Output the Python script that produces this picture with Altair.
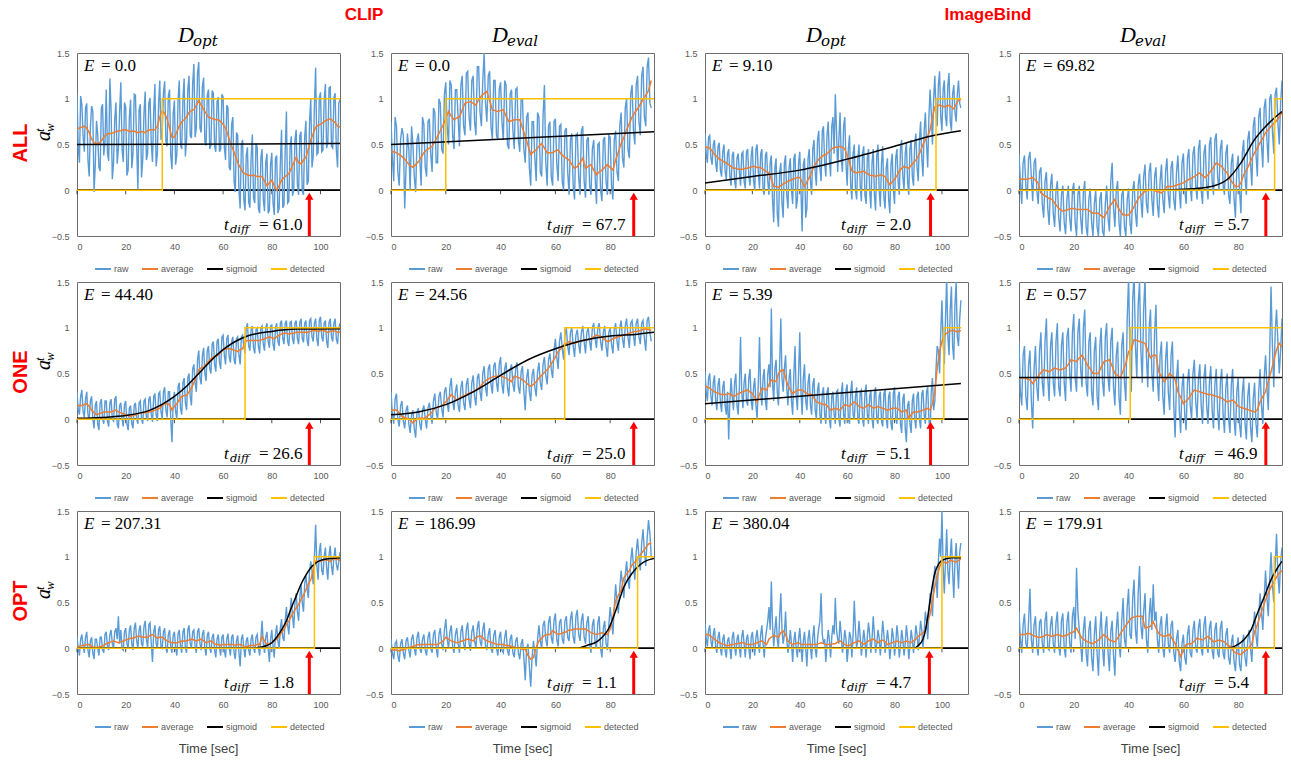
import altair as alt
import pandas as pd

# ---------------- data ----------------
SERIES = ["raw", "average", "sigmoid", "detected"]
COLORS = ["#5B9BD5", "#ED7D31", "#000000", "#FFC000"]
X_MAX = [108, 96, 111, 96]
X_TICKS = [[0, 20, 40, 60, 80, 100], [0, 20, 40, 60, 80], [0, 20, 40, 60, 80, 100], [0, 20, 40, 60, 80]]
Y_TICKS = [-0.5, 0, 0.5, 1, 1.5]
ROW_NAMES = ["ALL", "ONE", "OPT"]
GROUP_NAMES = ["CLIP", "ImageBind"]
COL_SUBS = ["opt", "eval", "opt", "eval"]
E_VALUES = ["0.0", "0.0", "9.10", "69.82", "44.40", "24.56", "5.39", "0.57", "207.31", "186.99", "380.04", "179.91"]
TDIFF = ["61.0", "67.7", "2.0", "5.7", "26.6", "25.0", "5.1", "46.9", "1.8", "1.1", "4.7", "5.4"]
ARROW_T = [95.4, 88.6, 95.2, 90.1, 95.4, 88.6, 95.2, 90.1, 95.4, 88.6, 94.7, 90.1]
DET_SWITCH = [35.0, 20.0, 97.5, 93.3, 69.0, 63.4, 100.8, 40.6, 97.5, 90.0, 100.0, 93.2]
DET_END = [108, 96, 108.2, 96, 108, 96, 108.2, 96, 108, 96, 108.2, 96]
DET_LEVELS = [0, 0, 1, 1]

# raw series at whole seconds
A_RAW = [1.05,0.30,0.94,0.42,0.95,0.15,0.92,-0.02,0.76,0.25,0.90,0.38,1.10,0.32,0.88,0.30,0.96,0.45,1.18,0.31,0.91,0.22,0.99,0.40,1.04,0.01,0.94,0.34,1.08,0.40,1.01,0.31,1.16,0.40,1.20,0.62,1.19,0.48,1.10,0.23,0.98,0.39,1.20,0.45,1.22,0.55,1.25,0.57,1.38,0.68,1.40,0.63,1.23,0.49,1.10,0.49,1.06,0.42,1.02,0.45,1.02,0.33,0.90,0.22,0.80,-0.02,0.60,-0.20,0.55,-0.22,0.47,-0.19,0.61,-0.14,0.47,-0.25,0.45,-0.23,0.40,-0.22,0.41,-0.27,0.38,-0.20,0.66,-0.16,0.86,-0.12,0.59,0.00,0.66,-0.05,0.64,-0.05,0.76,0.10,1.00,0.37,1.34,0.41,1.07,0.44,1.16,0.52,1.13,0.46,1.06,0.25,0.99]
B_RAW = [0.75,0.10,0.70,0.05,0.68,-0.20,0.62,0.00,0.50,-0.02,0.62,0.05,0.72,0.15,0.78,0.20,0.85,0.30,0.95,0.40,1.18,0.50,1.15,0.45,1.10,0.48,1.25,0.60,1.30,0.65,1.25,0.60,1.35,0.70,1.50,0.75,1.30,0.55,1.20,0.55,1.18,0.55,1.15,0.45,1.10,0.45,1.12,0.42,1.00,0.30,0.85,0.05,0.75,0.10,0.80,0.15,1.15,0.05,0.75,0.05,0.78,0.10,0.72,0.00,0.68,-0.05,0.62,-0.10,0.62,-0.05,0.70,-0.08,0.58,-0.05,0.55,-0.15,0.52,-0.12,0.58,-0.05,0.58,-0.10,0.65,0.10,0.85,0.25,1.00,0.35,1.15,0.50,1.25,0.60,1.35,0.70,1.45,0.90]
C_RAW = [0.62,0.30,0.60,0.28,0.55,0.20,0.52,0.15,0.50,0.12,0.45,0.05,0.42,0.02,0.40,0.05,0.42,0.02,0.45,0.05,0.48,0.00,0.50,0.02,0.45,-0.05,0.42,-0.05,0.38,-0.35,0.35,-0.40,0.30,-0.30,0.38,-0.20,0.35,-0.15,0.40,-0.10,0.42,-0.45,0.35,-0.20,0.45,-0.05,0.55,0.05,0.65,0.10,0.70,0.15,0.75,0.15,0.80,1.05,0.20,0.85,0.20,0.80,0.05,0.60,-0.10,0.50,-0.10,0.50,-0.12,0.48,-0.15,0.45,-0.20,0.45,-0.22,0.50,-0.18,0.48,-0.20,0.35,-0.25,0.40,-0.15,0.45,-0.05,0.55,0.00,0.52,-0.05,0.55,0.05,0.62,0.10,0.75,0.15,0.85,0.25,1.10,0.50,1.25,0.70,1.30,0.65,1.20,0.70,1.28,0.65,1.15,0.75,1.20,0.90]
D_RAW = [0.40,-0.15,0.38,-0.10,0.42,-0.12,0.35,-0.15,0.25,-0.30,0.20,-0.38,0.18,-0.40,0.10,-0.45,0.05,-0.48,0.05,-0.45,0.08,-0.50,0.05,-0.48,0.10,-0.50,0.02,-0.50,0.00,-0.50,-0.02,-0.50,0.05,-0.45,0.30,-0.40,0.10,-0.50,0.00,-0.50,0.02,-0.48,0.10,-0.40,0.18,-0.30,0.28,-0.25,0.30,-0.28,0.25,-0.30,0.28,-0.25,0.35,-0.20,0.32,-0.22,0.38,-0.20,0.40,-0.15,0.45,-0.12,0.48,-0.10,0.55,-0.15,0.50,-0.10,0.58,-0.05,0.62,0.00,0.55,-0.05,0.50,-0.15,0.40,-0.30,0.38,-0.25,0.55,-0.05,0.65,0.05,0.80,0.15,0.90,0.25,1.00,0.30,1.05,0.40,1.12,0.50,1.20]
E_RAW = [0.30,0.05,0.32,0.02,0.30,0.00,0.25,-0.10,0.20,-0.12,0.22,-0.05,0.20,-0.08,0.22,-0.02,0.25,-0.10,0.18,-0.08,0.20,-0.12,0.15,-0.10,0.18,-0.05,0.20,-0.05,0.22,-0.02,0.25,-0.03,0.28,-0.02,0.30,0.00,0.35,0.02,0.30,-0.25,0.30,0.00,0.40,0.05,0.45,0.10,0.50,0.15,0.60,0.30,0.75,0.38,0.78,0.42,0.80,0.50,0.85,0.52,0.88,0.55,0.92,0.60,0.92,0.62,0.90,0.60,0.90,0.60,0.92,0.72,1.05,0.75,1.02,0.72,1.00,0.72,1.02,0.75,1.05,0.78,1.03,0.75,1.05,0.80,1.08,0.82,1.08,0.80,1.07,0.82,1.08,0.82,1.10,0.84,1.08,0.80,1.10,0.85,1.10,0.80,1.12,0.85,1.08,0.78,1.10,0.85,1.10,0.82,1.05]
F_RAW = [0.30,-0.05,0.28,-0.08,0.20,-0.10,0.15,-0.15,0.10,-0.20,0.12,-0.12,0.15,-0.10,0.18,-0.05,0.28,0.00,0.30,0.02,0.35,0.08,0.45,0.10,0.38,0.08,0.42,0.10,0.45,0.12,0.48,0.15,0.50,0.20,0.58,0.25,0.60,0.28,0.62,0.30,0.68,0.28,0.62,0.25,0.60,0.30,0.62,0.28,0.58,0.10,0.55,0.20,0.55,0.25,0.62,0.32,0.68,0.38,0.72,0.45,0.88,0.55,0.95,0.65,1.00,0.70,1.00,0.68,0.98,0.72,1.02,0.72,1.00,0.75,1.05,0.78,1.05,0.75,1.02,0.68,1.00,0.72,1.05,0.75,1.08,0.78,1.10,0.78,1.08,0.80,1.10,0.82,1.08,0.75,1.12,0.85]
G_RAW = [0.52,0.20,0.50,0.15,0.48,0.10,0.45,0.08,0.42,0.05,-0.22,0.45,0.10,0.50,0.05,0.90,0.12,0.50,0.15,0.55,0.10,0.45,0.00,0.90,0.15,0.55,0.10,0.60,1.21,0.20,0.65,0.15,1.10,0.30,0.70,0.15,0.55,0.05,0.80,0.10,0.95,0.05,0.60,0.10,0.50,0.05,0.45,0.00,0.40,-0.05,0.35,-0.05,0.35,-0.10,0.30,-0.05,0.32,-0.08,0.40,-0.05,0.38,-0.05,0.42,0.00,0.35,-0.05,0.32,-0.08,0.38,-0.05,0.32,-0.10,0.35,-0.05,0.30,-0.08,0.32,-0.10,0.30,-0.12,0.35,-0.05,0.30,-0.15,0.28,-0.25,0.20,-0.15,0.28,-0.10,0.30,-0.10,0.32,-0.05,0.35,-0.15,0.45,0.20,0.80,0.50,1.30,0.60,1.55,0.70,1.45,0.65,1.50,0.80,1.30]
H_RAW = [0.85,0.15,0.80,0.10,0.75,-0.10,0.80,0.20,0.95,0.25,1.10,0.20,0.95,0.25,1.05,0.25,0.95,0.20,1.00,0.30,1.15,0.30,1.10,0.35,1.20,0.25,0.95,0.15,0.90,0.10,1.00,0.25,1.05,0.30,1.00,0.15,0.85,0.05,0.95,0.20,1.55,0.30,1.60,0.45,1.50,0.40,1.55,0.35,1.20,0.30,1.25,0.20,0.85,0.05,0.85,0.10,0.85,-0.20,0.65,-0.15,0.50,-0.12,0.55,0.00,0.65,0.00,0.60,-0.05,0.60,-0.05,0.58,-0.10,0.55,-0.12,0.55,-0.15,0.50,-0.15,0.55,-0.18,0.45,-0.20,0.45,-0.22,0.40,-0.25,0.40,-0.20,0.55,-0.05,0.70,0.10,1.45,0.35,1.20,0.50,1.10]
I_RAW = [0.12,-0.08,0.15,-0.05,0.18,-0.10,0.12,-0.12,0.10,-0.08,0.12,-0.05,0.18,-0.02,0.20,0.00,0.22,0.35,0.20,-0.02,0.22,0.00,0.25,-0.02,0.28,0.00,0.25,0.02,0.30,0.00,0.28,-0.15,0.25,0.00,0.24,0.00,0.22,-0.05,0.20,-0.05,0.18,-0.08,0.20,-0.05,0.22,-0.05,0.25,0.00,0.20,-0.05,0.22,-0.02,0.20,-0.08,0.18,-0.05,0.16,-0.10,0.15,-0.08,0.15,-0.10,0.16,-0.08,0.15,-0.12,0.14,-0.20,0.15,-0.10,0.12,-0.08,0.15,-0.05,0.15,-0.08,0.30,-0.05,0.18,-0.15,0.20,-0.10,0.25,0.00,0.32,0.08,0.45,0.15,0.55,0.22,0.60,0.30,0.70,0.40,0.80,0.55,0.95,0.70,1.35,0.75,1.15,0.80,1.10,0.75,1.12,0.80,1.10,0.85,1.05]
J_RAW = [0.10,-0.12,0.08,-0.15,0.10,-0.12,0.12,-0.10,0.15,-0.08,0.18,-0.05,0.15,-0.08,0.18,-0.05,0.20,-0.10,0.22,-0.02,0.32,0.00,0.25,-0.05,0.22,-0.05,0.25,-0.02,0.28,-0.03,0.25,0.00,0.30,0.02,0.28,-0.02,0.22,-0.05,0.20,-0.08,0.18,-0.05,0.20,-0.08,0.15,-0.10,0.12,-0.12,0.10,-0.35,0.05,-0.42,0.08,-0.20,0.25,0.00,0.30,0.02,0.35,0.05,0.38,0.02,0.32,0.05,0.35,0.08,0.40,0.05,0.42,0.08,0.38,0.05,0.35,-0.05,0.32,0.00,0.35,-0.10,0.30,-0.02,0.45,0.15,0.70,0.38,0.85,0.55,0.95,0.65,1.10,0.75,1.20,0.85,1.30,0.90,1.40,1.00]
K_RAW = [0.28,0.02,0.25,0.00,0.22,-0.05,0.18,-0.08,0.15,-0.10,0.12,-0.12,0.18,-0.08,0.15,-0.10,0.20,-0.10,0.15,-0.12,0.18,-0.08,0.20,-0.05,0.25,-0.10,0.20,0.45,0.73,0.02,0.35,0.00,0.60,0.05,0.40,-0.05,0.20,-0.15,0.18,-0.10,0.22,-0.15,0.18,-0.20,0.20,-0.12,0.25,-0.10,0.22,0.60,0.05,-0.15,0.20,-0.10,0.25,0.55,0.10,0.30,-0.05,0.20,-0.15,0.18,-0.10,0.52,0.00,0.30,-0.08,0.20,-0.10,0.28,-0.05,0.35,-0.05,0.20,-0.08,0.30,-0.05,0.20,-0.12,0.22,-0.08,0.25,-0.10,0.20,-0.08,0.25,-0.12,0.20,-0.05,0.25,-0.02,0.30,0.00,0.40,0.10,0.60,0.35,0.90,0.55,1.20,1.50,0.60,1.30,0.70,1.20,0.55,1.15,0.65,1.15]
L_RAW = [0.40,-0.05,0.38,0.00,0.65,-0.05,0.35,-0.08,0.32,-0.05,0.40,-0.02,0.35,-0.05,0.40,-0.08,0.38,-0.10,0.40,-0.05,0.45,0.88,0.20,-0.15,0.35,-0.20,0.30,-0.25,0.35,-0.30,0.40,-0.20,0.35,-0.25,0.30,-0.30,0.40,-0.10,0.55,0.00,0.65,0.10,0.75,0.05,0.90,0.10,0.60,-0.05,0.55,0.70,0.40,-0.05,0.35,-0.10,0.38,-0.05,0.30,-0.15,0.20,-0.25,0.15,-0.18,0.25,-0.10,0.30,-0.05,0.32,-0.08,0.35,-0.05,0.30,-0.12,0.28,-0.10,0.30,-0.12,0.22,-0.18,0.15,-0.25,0.12,-0.25,0.15,-0.20,0.20,-0.15,0.40,0.00,0.60,0.20,0.85,0.35,1.05,0.50,1.25,0.60,1.10]

# raw series at the half seconds in between
A_HALF = [.47,1.03,.59,.90,.33,.68,.86,.27,.61,.21,.94,.53,.41,1.22,.12,.78,.29,.85,.45,.96,.16,.80,.24,1.05,.49,.88,.14,.84,.33,.95,.51,.86,.26,.95,.55,1.07,.54,1.03,.38,.83,.28,.99,.50,1.00,.37,1.10,.60,1.17,.58,1.28,.68,1.13,.53,1.04,.45,1.09,.48,.97,.42,1.05,.47,.93,.25,.72,.10,.63,.00,.50,-.10,.38,-.13,.36,-.09,.51,-.20,.35,-.10,.30,-.25,.28,-.14,.35,-.25,.30,-.19,.44,-.14,.48,-.06,.55,.06,.60,-.01,.58,.06,.75,.25,.92,.39,1.01,.42,.99,.46,1.12,.48,1.01,.44,.95]
B_HALF = [.35,.80,.20,.55,.60,.25,.45,.70,.15,.55,.35,.80,.25,.75,.40,.90,.30,1.00,.45,1.05,.70,1.20,.60,1.10,.80,1.15,.70,1.28,.80,1.20,.75,1.35,.85,1.20,.95,1.25,.70,1.20,.60,1.10,.75,1.20,.50,1.05,.65,1.10,.55,1.00,.45,.80,.25,.75,.35,.85,.20,.80,.30,.70,.15,.75,.30,.70,.10,.65,.20,.55,.05,.60,.15,.65,.10,.55,.05,.45,.15,.50,.00,.55,.10,.60,.05,.55,.20,.70,.35,.90,.45,1.05,.65,1.15,.75,1.25,.80,1.35,.95]
C_HALF = [.40,.58,.35,.50,.30,.48,.22,.42,.20,.40,.15,.38,.10,.35,.20,.40,.10,.42,.15,.38,.10,.45,.20,.40,.00,.38,.10,.30,-.10,.25,-.25,.20,-.15,.30,-.05,.25,.00,.35,-.20,.30,.00,.28,-.30,.35,.10,.45,.20,.55,.25,.65,.30,.60,.35,.70,.40,.65,.55,.35,.70,.30,.45,.05,.40,.00,.35,.05,.40,-.05,.35,.00,.30,-.05,.38,.00,.30,-.08,.25,-.10,.28,.00,.35,.10,.45,.15,.40,.10,.45,.15,.50,.25,.55,.35,.65,.50,.80,.85,1.00,.85,1.15,.80,1.10,.80,1.15,.75,1.05,.85,1.05,.95]
D_HALF = [.10,.30,.05,.35,.15,.30,.00,.20,-.15,.10,-.20,.05,-.25,.00,-.30,-.05,-.35,-.10,-.30,.00,-.35,-.05,-.30,-.02,-.40,-.10,-.35,-.15,-.40,-.10,-.45,-.15,-.30,.10,-.20,.00,-.35,-.05,-.40,-.10,-.35,.00,-.25,.05,-.10,.15,-.15,.20,-.10,.15,-.15,.10,-.10,.20,-.05,.25,-.10,.20,.00,.30,.00,.35,.05,.40,.05,.45,.00,.40,.05,.50,.10,.55,.15,.45,.05,.40,-.05,.30,-.10,.25,.00,.40,.15,.55,.30,.70,.40,.80,.50,.90,.55,1.00,.65,1.05,.75,.95]
E_HALF = [.10,.25,.08,.22,.05,.20,.00,.15,-.05,.18,.00,.20,-.02,.18,.00,.22,-.05,.15,.00,.16,-.05,.12,-.05,.15,.00,.18,.00,.20,.02,.22,.05,.25,.05,.28,.08,.30,.10,.30,.00,.20,.08,.35,.12,.40,.18,.45,.25,.55,.40,.65,.45,.70,.50,.75,.55,.82,.60,.85,.62,.90,.70,.88,.68,.85,.65,.88,.70,.90,.80,1.00,.80,.98,.78,.98,.80,1.00,.82,1.00,.85,1.02,.82,1.00,.85,1.05,.88,1.05,.85,1.06,.88,1.05,.88,1.06,.88,1.05,.86,1.08,.90,1.05,.88,1.08,.90,1.05,.85,1.06,.90,1.05,.88,1.00]
F_HALF = [.05,.22,.00,.15,-.02,.10,-.05,.05,-.10,.08,-.05,.10,.00,.12,.05,.20,.08,.25,.12,.30,.18,.35,.20,.30,.15,.35,.18,.38,.22,.40,.25,.45,.30,.50,.35,.55,.38,.58,.40,.60,.38,.55,.35,.55,.38,.55,.35,.52,.30,.45,.30,.48,.35,.52,.40,.60,.48,.65,.55,.75,.68,.85,.78,.92,.80,.95,.80,.92,.82,.95,.85,.95,.85,1.00,.88,1.00,.85,.95,.80,.95,.82,.98,.85,1.00,.88,1.02,.90,1.05,.92,1.05,.90,1.05,.88,1.08,.95]
G_HALF = [.30,.45,.25,.40,.20,.38,.18,.35,.15,.30,.20,.25,.40,.15,.35,.30,.40,.20,.45,.20,.35,.15,.40,.30,.45,.20,.50,.35,.40,.55,.30,.60,.45,.55,.35,.45,.20,.50,.25,.50,.30,.45,.20,.40,.15,.38,.10,.32,.05,.28,.05,.30,.00,.25,.05,.30,.00,.28,.05,.32,.00,.30,.05,.25,.00,.30,.00,.28,.05,.25,.00,.28,.00,.25,-.02,.28,.00,.25,-.05,.28,.00,.25,-.05,.22,-.10,.15,-.05,.20,.00,.25,.00,.28,.05,.30,.00,.30,.10,.55,.75,.95,.85,1.10,.90,1.20,.80,1.25,.90,1.10]
H_HALF = [.30,.70,.25,.60,.20,.55,.35,.75,.40,.85,.45,.80,.40,.85,.35,.80,.40,.90,.50,.95,.45,.95,.55,1.00,.40,.85,.30,.75,.25,.80,.40,.90,.45,.85,.35,.70,.25,.80,.40,1.10,.70,1.30,.80,1.25,.75,1.20,.70,1.00,.50,.95,.45,.70,.25,.65,.30,.70,.15,.45,.10,.35,.05,.40,.15,.50,.20,.45,.15,.45,.15,.40,.10,.38,.10,.40,.05,.35,.00,.38,.00,.30,-.05,.28,-.05,.25,-.08,.22,-.05,.30,.15,.45,.35,.70,.80,.95,.85,.75]
I_HALF = [.00,.10,.02,.12,-.02,.08,-.05,.10,.00,.12,-.02,.15,.02,.15,.05,.18,.10,.05,.00,.18,.05,.20,.05,.22,.08,.20,.05,.24,.10,.26,.05,.18,.05,.20,.02,.18,.00,.15,.02,.14,.00,.16,.02,.18,.00,.20,.05,.18,.02,.18,.05,.15,.00,.14,.00,.12,-.02,.10,.00,.12,-.02,.10,.00,.12,-.05,.08,-.05,.10,.00,.08,-.02,.10,.00,.12,.00,.10,.05,.12,.00,.10,.02,.15,.08,.22,.12,.30,.25,.40,.35,.50,.40,.55,.50,.70,.65,.85,.85,1.00,.90,1.05,.85,1.00,.88,1.02,.90,1.00,.92,.95]
J_HALF = [-.05,.05,-.08,.05,-.05,.08,-.02,.10,.00,.12,.00,.10,-.02,.12,.00,.15,.00,.15,.05,.20,.10,.18,.02,.15,.05,.18,.05,.20,.05,.18,.08,.22,.08,.20,.02,.15,.00,.14,.00,.12,-.02,.12,-.02,.10,-.05,.08,-.05,.05,-.10,.00,-.20,-.10,-.05,.10,.08,.25,.10,.28,.12,.30,.10,.28,.10,.30,.12,.32,.12,.35,.15,.30,.12,.28,.05,.25,.05,.28,.00,.22,.05,.25,.30,.45,.50,.65,.70,.80,.75,.95,.90,1.05,1.00,1.15,1.05,1.20,1.25]
K_HALF = [.10,.20,.08,.15,.02,.12,.00,.10,-.02,.08,.00,.12,.02,.10,.00,.12,.05,.10,.00,.12,.02,.12,.05,.15,.05,.10,.30,.20,.25,.20,.10,.35,.20,.15,.10,.05,.05,.08,.00,.10,.02,.08,.00,.10,.02,.12,.00,.10,.30,.15,.10,.05,.08,.12,.15,.20,.05,.15,.05,.10,.00,.12,.15,.20,.10,.12,.05,.08,.12,.15,.10,.15,.05,.12,.10,.15,.05,.08,.02,.12,.05,.12,.02,.10,.05,.12,.02,.10,.08,.15,.12,.20,.18,.30,.40,.50,.70,.80,.95,1.00,.90,.95,.85,1.00,.85,.95,.90,1.05]
L_HALF = [.10,.25,.05,.30,.10,.25,.02,.28,.05,.30,.00,.25,.05,.28,.02,.30,.00,.28,.05,.35,.10,.40,.05,.20,-.05,.20,-.10,.15,-.05,.18,.00,.22,-.05,.18,-.08,.20,.05,.30,.10,.45,.15,.55,.20,.60,.25,.40,.10,.35,.20,.30,.10,.25,.00,.22,.05,.25,-.05,.10,-.15,.05,-.10,.15,-.05,.20,.00,.22,.00,.25,.02,.22,-.02,.20,-.05,.22,-.05,.15,-.10,.05,-.15,.02,-.18,.05,-.10,.08,.00,.20,.15,.35,.40,.55,.55,.75,.70,.90,.80,.95]

# moving-average series, one value per second
A_AVG = [.67,.68,.69,.70,.68,.63,.56,.52,.51,.51,.54,.58,.61,.62,.62,.63,.64,.65,.65,.66,.66,.65,.64,.65,.64,.63,.64,.64,.63,.65,.66,.66,.66,.70,.80,.87,.84,.78,.68,.58,.58,.64,.70,.75,.77,.80,.85,.87,.88,.93,.98,.93,.88,.84,.80,.79,.78,.77,.77,.75,.72,.68,.60,.52,.45,.38,.30,.25,.20,.18,.17,.16,.16,.16,.15,.15,.15,.10,.05,.08,.11,.05,.00,.05,.11,.14,.16,.18,.24,.30,.36,.30,.29,.33,.36,.45,.55,.62,.69,.71,.72,.74,.76,.77,.78,.76,.74,.70,.69]
B_AVG = [.42,.42,.41,.39,.37,.34,.30,.27,.25,.28,.31,.36,.41,.44,.46,.48,.53,.59,.65,.71,.79,.86,.81,.77,.79,.80,.88,.95,.96,.97,.95,.93,.99,1.03,1.06,1.08,.98,.88,.87,.86,.87,.88,.81,.75,.76,.77,.77,.77,.68,.59,.49,.39,.42,.44,.48,.51,.46,.41,.41,.41,.43,.44,.40,.37,.35,.33,.28,.24,.26,.30,.35,.24,.26,.28,.22,.17,.20,.22,.25,.28,.25,.22,.33,.42,.51,.58,.66,.73,.80,.85,.89,.94,.99,1.04,1.09,1.20]
C_AVG = [.47,.47,.46,.43,.39,.37,.34,.33,.31,.30,.28,.26,.24,.24,.23,.23,.23,.24,.24,.25,.26,.26,.25,.25,.24,.22,.20,.19,.12,.04,.04,.03,.05,.07,.08,.10,.11,.12,.13,.14,.14,.09,.04,.09,.14,.20,.26,.30,.34,.36,.38,.39,.41,.44,.46,.47,.47,.48,.47,.45,.38,.30,.21,.20,.19,.20,.20,.21,.19,.17,.16,.16,.15,.16,.17,.16,.15,.10,.06,.09,.12,.16,.21,.24,.26,.25,.24,.27,.30,.33,.37,.43,.50,.55,.59,.66,.80,.91,.92,.93,.92,.91,.92,.93,.91,.89,.94,.99,.99]
D_AVG = [.12,.12,.12,.12,.13,.14,.11,.08,-.03,-.05,-.07,-.09,-.10,-.14,-.18,-.21,-.23,-.22,-.21,-.20,-.20,-.21,-.21,-.21,-.21,-.21,-.23,-.25,-.25,-.25,-.28,-.30,-.24,-.18,-.14,-.10,-.18,-.23,-.27,-.27,-.27,-.23,-.18,-.12,-.07,-.04,-.01,.00,.01,.00,-.01,-.02,-.03,.00,.04,.04,.04,.05,.06,.07,.08,.10,.12,.13,.15,.17,.19,.16,.14,.17,.21,.25,.30,.28,.26,.22,.19,.12,.08,.04,.04,.08,.17,.22,.28,.35,.41,.46,.52,.57,.63,.66,.70,.73,.76,.80,.85]
E_AVG = [.15,.15,.15,.16,.17,.14,.10,.07,.05,.06,.07,.08,.08,.08,.08,.09,.10,.08,.07,.06,.05,.04,.03,.04,.05,.06,.07,.07,.07,.08,.08,.09,.10,.11,.12,.15,.17,.17,.16,.10,.14,.17,.21,.25,.26,.26,.30,.34,.40,.47,.54,.56,.57,.60,.63,.66,.68,.69,.70,.73,.76,.77,.77,.77,.76,.75,.74,.76,.77,.85,.86,.86,.86,.86,.86,.86,.87,.88,.89,.90,.89,.88,.90,.92,.93,.94,.94,.93,.94,.94,.95,.95,.95,.95,.95,.95,.96,.97,.97,.96,.97,.97,.96,.95,.96,.97,.96,.95,.95]
F_AVG = [.10,.10,.10,.07,.03,.02,.01,-.01,-.04,-.01,.01,.01,.01,.03,.05,.08,.12,.13,.14,.16,.19,.23,.27,.24,.21,.23,.25,.26,.28,.29,.30,.32,.34,.37,.41,.43,.45,.46,.47,.47,.48,.46,.45,.43,.41,.47,.46,.45,.43,.41,.38,.36,.38,.41,.45,.48,.51,.54,.58,.63,.68,.74,.77,.81,.83,.85,.84,.83,.84,.85,.86,.87,.87,.88,.90,.92,.91,.90,.87,.85,.86,.88,.89,.90,.91,.92,.93,.94,.95,.96,.96,.97,.98,.99,.98,.97]
G_AVG = [.36,.35,.34,.32,.30,.29,.28,.27,.27,.27,.28,.27,.25,.26,.28,.29,.30,.31,.32,.30,.28,.24,.19,.27,.34,.33,.32,.38,.43,.42,.41,.50,.53,.54,.45,.37,.32,.28,.30,.32,.32,.32,.30,.28,.27,.27,.23,.19,.18,.17,.16,.16,.13,.10,.11,.12,.11,.10,.13,.16,.15,.14,.17,.19,.17,.14,.13,.12,.14,.16,.14,.12,.13,.14,.13,.12,.11,.10,.11,.12,.12,.12,.10,.08,.09,.10,.01,.05,.08,.08,.08,.09,.10,.11,.12,.10,.17,.30,.56,.74,.85,.92,.94,.96,.97,.97,.96,.96,.97]
H_AVG = [.45,.45,.45,.44,.43,.39,.43,.47,.51,.54,.53,.52,.54,.56,.55,.54,.55,.56,.60,.65,.64,.63,.67,.70,.65,.59,.55,.50,.50,.50,.57,.63,.64,.65,.58,.50,.48,.45,.53,.61,.74,.76,.87,.86,.85,.84,.83,.75,.67,.70,.70,.52,.47,.41,.45,.50,.47,.43,.30,.24,.17,.20,.23,.28,.32,.31,.30,.29,.28,.27,.27,.26,.25,.24,.23,.21,.19,.20,.21,.18,.14,.13,.12,.11,.10,.09,.08,.10,.19,.25,.30,.41,.52,.64,.76,.83,.79]
I_AVG = [.01,.02,.03,.03,.04,.04,.02,.01,.01,.01,.02,.03,.05,.06,.07,.08,.07,.06,.07,.08,.09,.10,.11,.11,.12,.13,.13,.12,.12,.12,.14,.15,.13,.11,.12,.12,.10,.08,.07,.06,.06,.06,.07,.08,.08,.08,.09,.10,.09,.08,.09,.10,.08,.06,.07,.08,.06,.04,.04,.03,.04,.04,.04,.04,.04,.03,.04,.04,.03,.01,.02,.03,.03,.03,.04,.04,.13,.08,.04,.05,.06,.08,.10,.13,.17,.21,.26,.30,.35,.40,.44,.48,.53,.58,.64,.70,.75,.85,.95,.95,.95,.96,.97,.96,.95,.97,.98,.97,.96]
J_AVG = [-.01,-.02,-.02,-.03,-.02,-.01,.00,.01,.02,.03,.04,.04,.04,.04,.04,.04,.04,.04,.06,.08,.12,.10,.08,.07,.06,.07,.08,.09,.10,.09,.08,.12,.13,.13,.10,.08,.07,.06,.05,.04,.04,.04,.03,.03,.02,.01,.00,.00,-.01,-.01,-.08,-.12,-.10,.01,.08,.11,.14,.15,.15,.19,.17,.15,.16,.17,.18,.20,.20,.21,.21,.21,.21,.21,.19,.17,.16,.15,.16,.17,.16,.15,.21,.34,.52,.58,.63,.77,.81,.85,.91,.94,.98,1.02,1.06,1.10,1.14,1.15]
K_AVG = [.15,.15,.14,.12,.10,.08,.06,.05,.04,.03,.03,.04,.04,.05,.05,.06,.06,.05,.04,.04,.04,.05,.06,.07,.08,.06,.04,.10,.12,.14,.13,.12,.17,.19,.15,.08,.06,.04,.05,.06,.05,.04,.04,.04,.04,.04,.04,.04,.05,.06,.05,.04,.04,.04,.05,.05,.07,.08,.06,.04,.03,.03,.05,.06,.07,.08,.06,.04,.06,.08,.09,.10,.08,.06,.08,.09,.07,.04,.05,.06,.07,.08,.07,.06,.07,.08,.07,.06,.08,.10,.13,.15,.17,.20,.30,.37,.52,.67,.78,.89,.94,.94,.93,.95,.96,.95,.94,.96,.98]
L_AVG = [.15,.15,.15,.16,.16,.14,.13,.12,.12,.13,.15,.14,.13,.14,.15,.14,.13,.14,.15,.17,.18,.22,.16,.11,.09,.07,.06,.05,.07,.09,.12,.15,.12,.09,.08,.07,.11,.16,.20,.25,.29,.33,.34,.35,.35,.35,.22,.23,.24,.29,.22,.16,.14,.13,.14,.15,.10,.05,-.02,-.09,-.02,.04,.05,.05,.08,.11,.10,.09,.11,.13,.10,.07,.08,.09,.08,.07,.04,.02,-.02,-.05,-.06,-.07,-.04,-.02,.01,.05,.18,.26,.35,.44,.53,.60,.67,.72,.78,.82,.85]

# fitted sigmoid curves, read as (time, value) points
A_SIG_T = [0, 108]
A_SIG_V = [0.50, 0.51]
B_SIG_T = [0, 96]
B_SIG_V = [0.50, 0.64]
C_SIG_T = [0, 20, 40, 60, 80, 95, 108]
C_SIG_V = [0.08, 0.15, 0.22, 0.34, 0.48, 0.59, 0.65]
D_SIG_T = [0, 50, 60, 68, 71.3, 76.1, 81, 85.9, 89.5, 93.2, 96]
D_SIG_V = [0, 0, 0.01, 0.03, 0.05, 0.12, 0.30, 0.55, 0.68, 0.79, 0.86]
E_SIG_T = [0, 10, 20, 30, 40, 45, 50, 55, 60, 65, 70, 80, 90, 108]
E_SIG_V = [0.01, 0.02, 0.04, 0.10, 0.25, 0.36, 0.50, 0.64, 0.76, 0.85, 0.91, 0.96, 0.985, 0.99]
F_SIG_T = [0, 10, 20, 30, 40, 50, 60, 70, 80, 90, 96]
F_SIG_V = [0.05, 0.08, 0.16, 0.30, 0.48, 0.65, 0.77, 0.86, 0.91, 0.93, 0.95]
G_SIG_T = [0, 108]
G_SIG_V = [0.17, 0.39]
H_SIG_T = [0, 96]
H_SIG_V = [0.455, 0.455]
I_SIG_T = [0, 72, 75, 78, 80, 82, 84, 86, 88, 90, 92, 94, 96, 98, 100, 104, 108]
I_SIG_V = [0, 0, 0.01, 0.03, 0.06, 0.12, 0.20, 0.30, 0.44, 0.57, 0.70, 0.80, 0.88, 0.93, 0.96, 0.98, 0.99]
J_SIG_T = [0, 68, 71.4, 75.6, 79.7, 82.5, 85, 88, 90.8, 93.5, 96]
J_SIG_V = [0, 0, 0.03, 0.08, 0.23, 0.45, 0.67, 0.82, 0.91, 0.96, 0.98]
K_SIG_T = [0, 88, 90, 92, 93, 94, 95, 96, 97, 98, 100, 104, 108]
K_SIG_V = [0, 0, 0.03, 0.10, 0.19, 0.34, 0.52, 0.69, 0.82, 0.89, 0.96, 0.99, 0.99]
L_SIG_T = [0, 76, 78.6, 82, 84.7, 87, 89.5, 92, 94.4, 96]
L_SIG_V = [0, 0, 0.02, 0.09, 0.20, 0.38, 0.56, 0.75, 0.88, 0.95]

RAWS = [A_RAW, B_RAW, C_RAW, D_RAW, E_RAW, F_RAW, G_RAW, H_RAW, I_RAW, J_RAW, K_RAW, L_RAW]
HALFS = [A_HALF, B_HALF, C_HALF, D_HALF, E_HALF, F_HALF, G_HALF, H_HALF, I_HALF, J_HALF, K_HALF, L_HALF]
AVGS = [A_AVG, B_AVG, C_AVG, D_AVG, E_AVG, F_AVG, G_AVG, H_AVG, I_AVG, J_AVG, K_AVG, L_AVG]
SIG_TS = [A_SIG_T, B_SIG_T, C_SIG_T, D_SIG_T, E_SIG_T, F_SIG_T, G_SIG_T, H_SIG_T, I_SIG_T, J_SIG_T, K_SIG_T, L_SIG_T]
SIG_VS = [A_SIG_V, B_SIG_V, C_SIG_V, D_SIG_V, E_SIG_V, F_SIG_V, G_SIG_V, H_SIG_V, I_SIG_V, J_SIG_V, K_SIG_V, L_SIG_V]

# ---------------- layout / style ----------------
W, H = 263, 183
TDIFF_X = [147, 156, 136, 160]
SERIF = "Liberation Serif"
SUBF = "DejaVu Serif"
SANS = "Liberation Sans"


def frame(ts, vs, name):
    df = pd.DataFrame({"t": ts, "v": vs, "s": name})
    df = df.sort_values("t", kind="stable").reset_index(drop=True)
    df["i"] = range(len(df))
    return df


def text_layer(s, x, y, size, font, italic=False, bold=False, color="black",
               angle=0, align="left"):
    kw = dict(x=x, y=y, fontSize=size, font=font, color=color, align=align,
              baseline="alphabetic", angle=angle)
    if italic:
        kw["fontStyle"] = "italic"
    if bold:
        kw["fontWeight"] = "bold"
    return alt.Chart(pd.DataFrame({"s": [s]})).mark_text(**kw).encode(text="s:N")


def panel(k, row, col):
    xmax = X_MAX[col]
    xs = alt.Scale(domain=[0, xmax], nice=False, zero=False)
    ys = alt.Scale(domain=[-0.5, 1.5], nice=False, zero=False)
    X = alt.X("t:Q", scale=xs,
              axis=alt.Axis(values=X_TICKS[col], title=None, format="d", labelPadding=6))
    Y = alt.Y("v:Q", scale=ys,
              axis=alt.Axis(values=Y_TICKS, title=None, format="~g", labelPadding=8))
    color = alt.Color("s:N", scale=alt.Scale(domain=SERIES, range=COLORS),
                      legend=alt.Legend(orient="none", legendX=17, legendY=H + 24,
                                        direction="horizontal", title=None,
                                        symbolType="stroke", symbolStrokeWidth=2,
                                        symbolSize=256, labelFont=SANS, labelFontSize=9,
                                        labelColor="#595959", columnPadding=9,
                                        labelOffset=2, padding=0))
    order = alt.Order("i:Q")

    raw = RAWS[k]
    half = HALFS[k]
    avg = AVGS[k]
    raw_t = list(range(len(raw))) + [i + 0.5 for i in range(len(half))]
    raw_df = frame(raw_t, raw + half, "raw")
    avg_df = frame(list(range(len(avg))), avg, "average")
    sig_df = frame(SIG_TS[k], SIG_VS[k], "sigmoid")
    det_df = frame([0, DET_SWITCH[k], DET_SWITCH[k], DET_END[k]], DET_LEVELS, "detected")
    tick_df = pd.DataFrame({"t": X_TICKS[col], "v": [0] * len(X_TICKS[col])})

    zero = alt.Chart(tick_df).mark_rule(color="black", strokeWidth=1).encode(y=alt.Y("v:Q", scale=ys))
    ticks = alt.Chart(tick_df).mark_tick(orient="vertical", size=4, thickness=1,
                                         color="black", yOffset=2).encode(x=X, y=Y)
    l_raw = alt.Chart(raw_df).mark_line(strokeWidth=1.4, clip=True).encode(x=X, y=Y, color=color, order=order)
    l_avg = alt.Chart(avg_df).mark_line(strokeWidth=1.5, clip=True).encode(x=X, y=Y, color=color, order=order)
    l_sig = alt.Chart(sig_df).mark_line(strokeWidth=1.5, interpolate="monotone", clip=True).encode(
        x=X, y=Y, color=color, order=order)
    l_det = alt.Chart(det_df).mark_line(strokeWidth=1.5, clip=True).encode(x=X, y=Y, color=color, order=order)

    arrow_df = pd.DataFrame({"t": [ARROW_T[k]], "v": [-0.5], "v2": [-0.06], "h": [0]})
    shaft = alt.Chart(arrow_df).mark_rule(color="#FF0000", strokeWidth=3).encode(
        x=alt.X("t:Q", scale=xs), y=alt.Y("v:Q", scale=ys), y2="v2:Q")
    head = alt.Chart(arrow_df).mark_point(shape="triangle-up", filled=True, color="#FF0000",
                                          size=70, opacity=1, yOffset=6).encode(
        x=alt.X("t:Q", scale=xs), y=alt.Y("h:Q", scale=ys))

    layers = [zero, ticks, l_raw, l_avg, l_sig, l_det, shaft, head]

    # E = ...
    layers.append(text_layer("E", 7, 18, 17, SERIF, italic=True))
    layers.append(text_layer("= " + E_VALUES[k], 24, 18, 17, SERIF))
    # t_diff = ...
    tx = TDIFF_X[col]
    layers.append(text_layer("t", tx, H - 6, 17, SERIF, italic=True))
    layers.append(text_layer("diff", tx + 6, H - 3, 11.5, SUBF, italic=True))
    layers.append(text_layer("= " + TDIFF[k], tx + 35, H - 6, 17, SERIF))

    if row == 0:
        layers.append(text_layer("D", 101, -11, 22, SERIF, italic=True))
        layers.append(text_layer(COL_SUBS[col], 116, -7, 15, SUBF, italic=True))
        if col == 0:
            layers.append(text_layer(GROUP_NAMES[0], 287, -33, 17, SANS, bold=True,
                                     color="#FF0000", align="center"))
        if col == 2:
            layers.append(text_layer(GROUP_NAMES[1], 283, -33, 17, SANS, bold=True,
                                     color="#FF0000", align="center"))
    if col == 0:
        layers.append(text_layer(ROW_NAMES[row], -50, 90, 20, SANS, bold=True,
                                 color="#FF0000", angle=270, align="center"))
        layers.append(text_layer("a", -27, 88, 20, SERIF, italic=True, angle=270))
        layers.append(text_layer("t", -33, 79, 13, SERIF, italic=True, angle=270))
        layers.append(text_layer("w", -23, 79, 13, SERIF, italic=True, angle=270))
    if row == 2:
        layers.append(text_layer("Time [sec]", W / 2, H + 59, 13, SANS, color="#404040",
                                 align="center"))

    return alt.layer(*layers).properties(width=W, height=H)


panels = []
for row in range(3):
    for col in range(4):
        panels.append(panel(row * 4 + col, row, col))

chart = alt.concat(*panels, columns=4, spacing={"row": 46, "column": 51}).resolve_scale(
    color="independent").resolve_legend(color="independent").properties(
    bounds="flush", padding={"left": 10, "top": 5, "right": 5, "bottom": 5},
    background="white").configure_view(stroke="#6e6e6e", strokeWidth=1).configure_axis(
    labelFont=SANS, labelFontSize=9, labelColor="#595959", grid=False, domain=False, ticks=False)

chart.save("out.html", embed_options={"renderer": "svg", "actions": False})
